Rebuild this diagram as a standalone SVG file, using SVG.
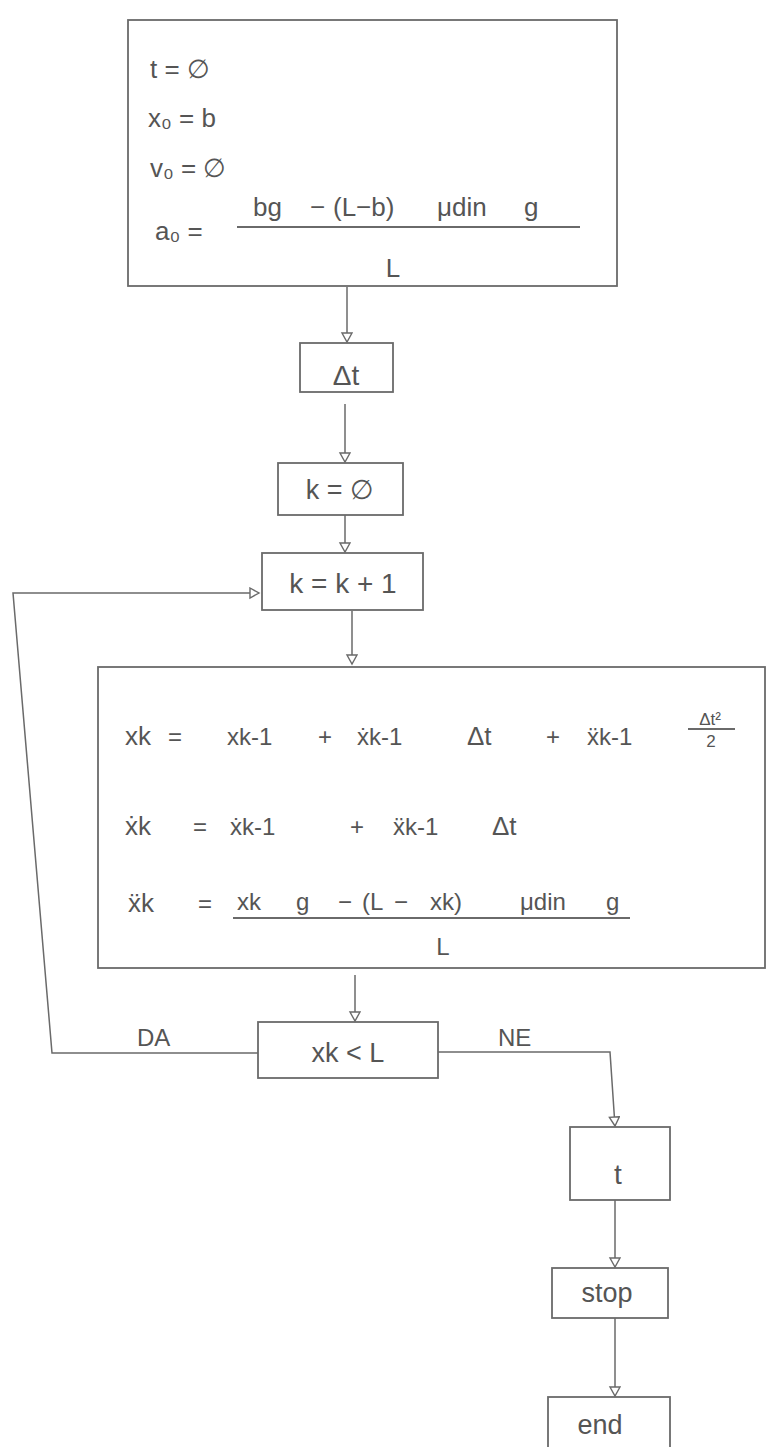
<svg xmlns="http://www.w3.org/2000/svg" width="770" height="1447" viewBox="0 0 770 1447">
<style>
.bx{fill:none;stroke:#6a6a6a;stroke-width:1.8}
.ln{fill:none;stroke:#6a6a6a;stroke-width:1.5}
.t{font-family:"Liberation Sans",Arial,sans-serif;fill:#555;font-size:24px}
.m{text-anchor:middle}
.s{font-size:17px}
.b{font-size:26px}
.fr{stroke:#6a6a6a;stroke-width:1.8}
</style>
<defs>
<marker id="ah" markerWidth="12" markerHeight="14" refX="10" refY="6" orient="auto" markerUnits="userSpaceOnUse">
<path d="M1,1 L10,6 L1,11 z" fill="#fff" stroke="#6a6a6a" stroke-width="1.4"/>
</marker>
</defs>
<rect width="770" height="1447" fill="#fff"/>

<g id="connectors">
<path class="ln" d="M347,287 L347,342" marker-end="url(#ah)"/>
<path class="ln" d="M345,404 L345,462" marker-end="url(#ah)"/>
<path class="ln" d="M345,515 L345,552" marker-end="url(#ah)"/>
<path class="ln" d="M352,611 L352,664" marker-end="url(#ah)"/>
<path class="ln" d="M355,975 L355,1021" marker-end="url(#ah)"/>
<path class="ln" d="M258,1053 L52,1053 L13,593 L259,593" marker-end="url(#ah)"/>
<path class="ln" d="M438,1052 L610,1052 L615,1126" marker-end="url(#ah)"/>
<path class="ln" d="M615,1200 L615,1267" marker-end="url(#ah)"/>
<path class="ln" d="M615,1318 L615,1396" marker-end="url(#ah)"/>
<text class="t" x="137" y="1046">DA</text>
<text class="t" x="498" y="1046">NE</text>
</g>

<g id="init">
<rect class="bx" x="128" y="20" width="489" height="266"/>
<text class="t b" x="150" y="78">t = ∅</text>
<text class="t b" x="148" y="127">x₀ = b</text>
<text class="t b" x="150" y="177">v₀ = ∅</text>
<text class="t b" x="155" y="240">a₀ =</text>
<text class="t b" x="253" y="216">bg</text>
<text class="t b" x="310" y="216">−</text>
<text class="t b" x="333" y="216">(L−b)</text>
<text class="t b" x="437" y="216">μdin</text>
<text class="t b" x="524" y="216">g</text>
<line class="fr" x1="237" y1="227" x2="580" y2="227"/>
<text class="t m b" x="393" y="277">L</text>
</g>

<g id="dt">
<rect class="bx" x="300" y="343" width="93" height="49"/>
<text class="t m" x="346" y="385" style="font-size:28px">Δt</text>
</g>

<g id="k0">
<rect class="bx" x="278" y="463" width="125" height="52"/>
<text class="t m" x="340" y="499" style="font-size:27px">k = ∅</text>
</g>

<g id="kinc">
<rect class="bx" x="262" y="553" width="161" height="57"/>
<text class="t m" x="343" y="593" style="font-size:28px">k = k + 1</text>
</g>

<g id="update">
<rect class="bx" x="98" y="667" width="667" height="301"/>
<text class="t b" x="125" y="745">xk</text>
<text class="t" x="168" y="745">=</text>
<text class="t" x="227" y="745">xk-1</text>
<text class="t" x="318" y="745">+</text>
<text class="t" x="357" y="745">ẋk-1</text>
<text class="t b" x="467" y="745">Δt</text>
<text class="t" x="546" y="745">+</text>
<text class="t" x="587" y="745">ẍk-1</text>
<text class="t m s" x="710" y="725">Δt²</text>
<line class="fr" x1="688" y1="729" x2="735" y2="729"/>
<text class="t m s" x="711" y="747">2</text>

<text class="t b" x="125" y="835">ẋk</text>
<text class="t" x="193" y="835">=</text>
<text class="t" x="230" y="835">ẋk-1</text>
<text class="t" x="350" y="835">+</text>
<text class="t" x="393" y="835">ẍk-1</text>
<text class="t b" x="492" y="835">Δt</text>

<text class="t b" x="128" y="912">ẍk</text>
<text class="t" x="198" y="912">=</text>
<text class="t" x="237" y="910">xk</text>
<text class="t" x="296" y="910">g</text>
<text class="t" x="338" y="910">−</text>
<text class="t" x="362" y="910">(L</text>
<text class="t" x="394" y="910">−</text>
<text class="t" x="430" y="910">xk)</text>
<text class="t" x="520" y="910">μdin</text>
<text class="t" x="606" y="910">g</text>
<line class="fr" x1="233" y1="918" x2="630" y2="918"/>
<text class="t m" x="443" y="955">L</text>
</g>

<g id="decision">
<rect class="bx" x="258" y="1022" width="180" height="56"/>
<text class="t m" x="348" y="1062" style="font-size:27px">xk &lt; L</text>
</g>

<g id="out">
<rect class="bx" x="570" y="1127" width="100" height="73"/>
<text class="t m" x="618" y="1184" style="font-size:28px">t</text>
</g>

<g id="stop">
<rect class="bx" x="552" y="1268" width="116" height="50"/>
<text class="t m" x="607" y="1302" style="font-size:27px">stop</text>
</g>

<g id="end">
<rect class="bx" x="548" y="1397" width="122" height="60"/>
<text class="t m" x="600" y="1434" style="font-size:27px">end</text>
</g>
</svg>
